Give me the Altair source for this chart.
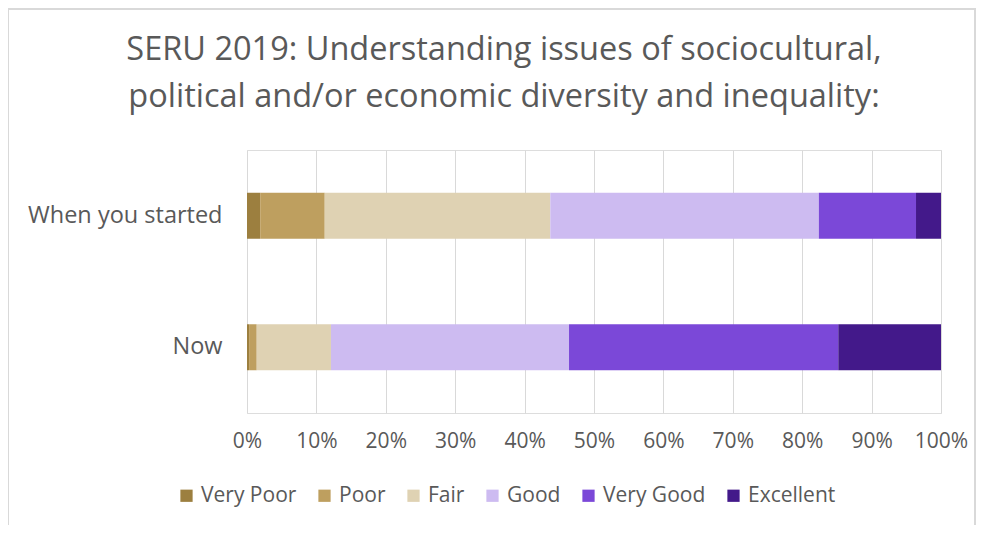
import altair as alt
import pandas as pd

periods = ["When you started", "Now"]
ratings = ["Very Poor", "Poor", "Fair", "Good", "Very Good", "Excellent"]
started_vals = [1.9, 9.3, 32.5, 38.7, 14.0, 3.6]
now_vals = [0.3, 1.1, 10.7, 34.3, 38.8, 14.8]
colors = ["#9C7F3F", "#BE9F5F", "#DFD2B3", "#CDBBF1", "#7B48D8", "#43198A"]
x_ticks = [0, 10, 20, 30, 40, 50, 60, 70, 80, 90, 100]

rows = []
for p, vals in zip(periods, [started_vals, now_vals]):
    for i, (r, v) in enumerate(zip(ratings, vals)):
        rows.append({"period": p, "rating": r, "order": i, "value": v / 100})
df = pd.DataFrame(rows)

FONT = "Open Sans"
GREY = "#595959"

bars = alt.Chart(df).mark_bar(size=46).encode(
    x=alt.X("sum(value):Q",
            scale=alt.Scale(domain=[0, 1], nice=False),
            axis=alt.Axis(format=".0%", values=[t / 100 for t in x_ticks], title=None,
                          domain=False, ticks=False, grid=True, gridColor="#D9D9D9",
                          gridWidth=1, labelFontSize=21, labelColor=GREY, labelFont=FONT,
                          labelPadding=17, labelFlush=False)),
    y=alt.Y("period:N", sort=periods,
            axis=alt.Axis(title=None, domain=False, ticks=False, labelFontSize=23.5,
                          labelColor=GREY, labelFont=FONT, labelPadding=25,
                          labelLimit=300)),
    color=alt.Color("rating:N", sort=ratings,
                    scale=alt.Scale(domain=ratings, range=colors),
                    legend=alt.Legend(title=None, orient="none", direction="horizontal",
                                      legendX=-71, legendY=335, columns=6,
                                      symbolType="square", symbolSize=150,
                                      symbolStrokeWidth=0, labelFontSize=21,
                                      labelColor=GREY, labelFont=FONT,
                                      columnPadding=17, labelOffset=4)),
    order=alt.Order("order:Q"),
)

frame = alt.Chart(df).mark_rect(fill=None, stroke="#D9D9D9", strokeWidth=1.5).encode(
    x=alt.value(-239), x2=alt.value(728), y=alt.value(-141), y2=alt.value(381)
)

chart = alt.layer(frame, bars).properties(
    width=694, height=263,
    title=alt.TitleParams(
        ["SERU 2019: Understanding issues of sociocultural,",
         "political and/or economic diversity and inequality:"],
        fontSize=32.5, font=FONT, color=GREY, fontWeight="normal",
        lineHeight=47, anchor="middle", dx=-90, offset=-105),
    autosize=alt.AutoSizeParams(type="none"),
    padding={"left": 239, "top": 142, "right": 37, "bottom": 112},
).configure_view(stroke=None).configure(background="white")

chart.save("out.html", embed_options={"renderer": "svg", "actions": False})
